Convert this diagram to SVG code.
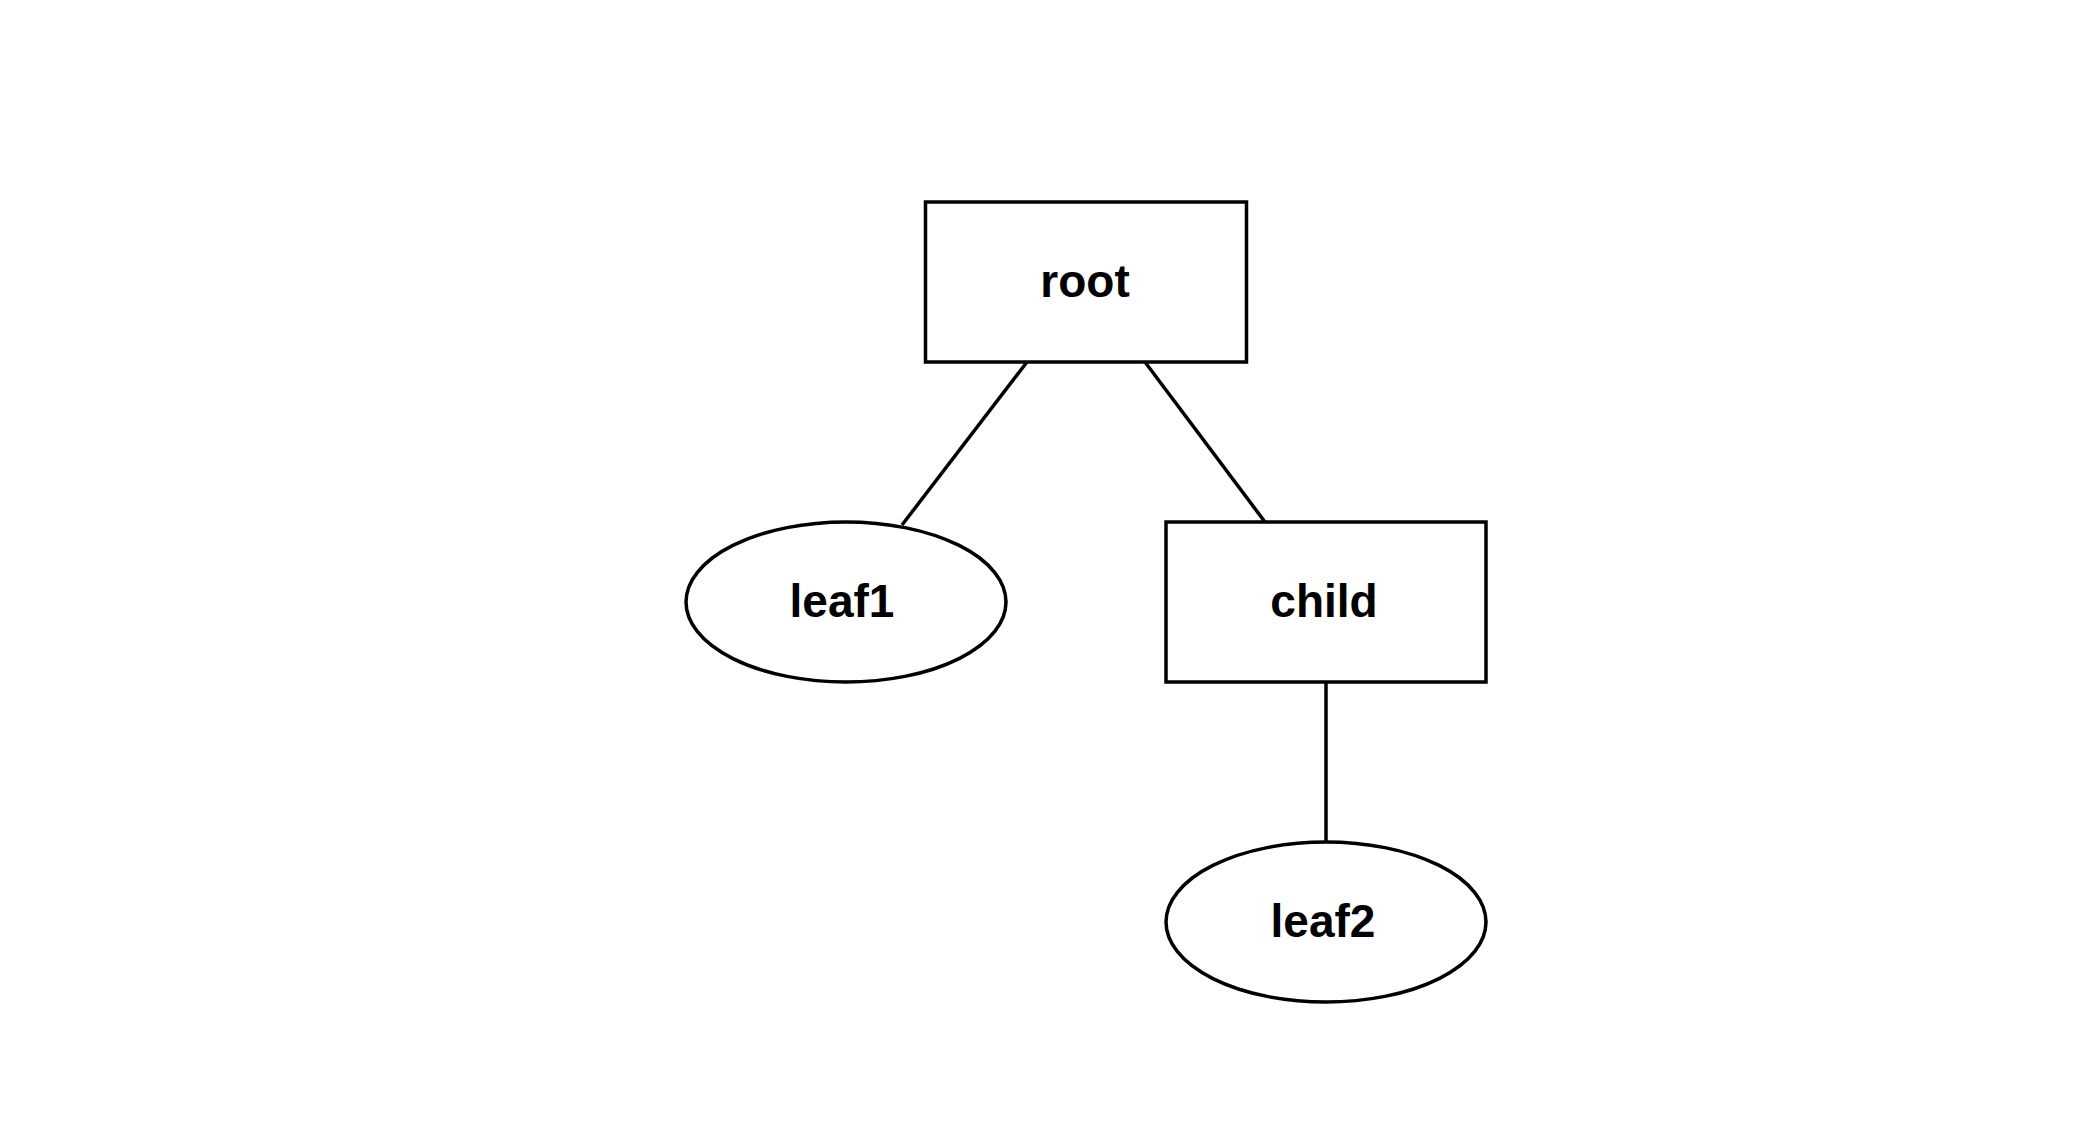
<svg xmlns="http://www.w3.org/2000/svg" width="2084" height="1124" viewBox="0 0 2084 1124">
<style>
.shape{fill:#fff;stroke:#000;stroke-width:3.5}
.edge{stroke:#000;stroke-width:3.5;fill:none}
.label{font-family:"Liberation Sans",Arial,Helvetica,sans-serif;font-weight:bold;font-size:46px;text-anchor:middle;fill:#000}
</style>
<rect width="2084" height="1124" fill="#fff"/>
<g id="connectors">
<line class="edge" x1="1027" y1="362" x2="902" y2="525"/>
<line class="edge" x1="1145" y1="362" x2="1265" y2="522"/>
<line class="edge" x1="1326" y1="682" x2="1326" y2="842"/>
</g>
<g id="root">
<rect class="shape" x="925.5" y="202" width="321" height="160"/>
<text class="label" x="1085" y="297">root</text>
</g>
<g id="leaf1">
<ellipse class="shape" cx="846" cy="602" rx="160" ry="80"/>
<text class="label" x="842" y="617">leaf1</text>
</g>
<g id="child">
<rect class="shape" x="1166" y="522" width="320" height="160"/>
<text class="label" x="1324" y="617">child</text>
</g>
<g id="leaf2">
<ellipse class="shape" cx="1326" cy="922" rx="160" ry="80"/>
<text class="label" x="1323" y="937">leaf2</text>
</g>
</svg>
